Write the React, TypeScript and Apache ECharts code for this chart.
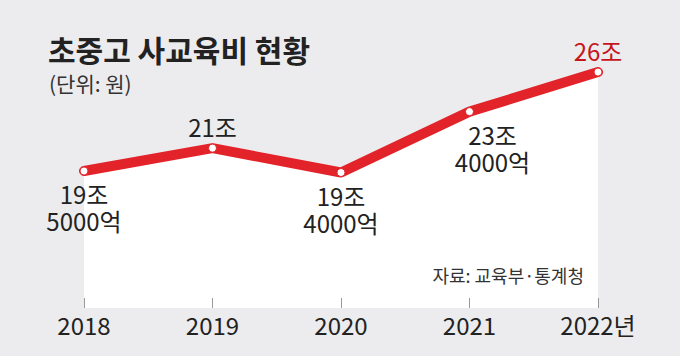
import React, { useEffect, useRef } from "react";
import * as echarts from "echarts";

const years = ["2018", "2019", "2020", "2021", "2022"];
const values = [19.5, 21, 19.4, 23.4, 26];
const valueLabels = ["19조\n5000억", "21조", "19조\n4000억", "23조\n4000억", "26조"];
const labelPositions = ["bottom", "top", "bottom", "bottom", "top"];
const titleText = "초중고 사교육비 현황";
const unitText = "(단위: 원)";
const sourceText = "자료: 교육부·통계청";

const FONT = "'Liberation Sans Narrow', 'Noto Sans CJK KR', sans-serif";
const RED = "#e3232a";
const DARK_RED = "#c4161c";

export default function App() {
  const ref = useRef<HTMLDivElement>(null);
  useEffect(() => {
    if (!ref.current) return;
    const chart = echarts.init(ref.current, null, { renderer: "svg" });
    const data = values.map((v, i) => {
      const isLast = i === values.length - 1;
      return {
        value: v,
        label: {
          show: true,
          position: labelPositions[i],
          distance: labelPositions[i] === "top" ? 4 : 5,
          offset: i === 3 ? [23, 0] : [0, 0],
          formatter: valueLabels[i],
          color: isLast ? DARK_RED : "#222",
          fontSize: 24,
          lineHeight: 27,
          fontFamily: FONT,
        },
      };
    });
    chart.setOption({
      animation: false,
      backgroundColor: "#ececee",
      title: [
        {
          text: titleText,
          left: 48,
          top: 34,
          padding: 0,
          textStyle: {
            fontFamily: "'Noto Sans CJK KR', sans-serif",
            fontWeight: "bold",
            fontSize: 30,
            color: "#222",
          },
        },
        {
          text: unitText,
          left: 49,
          top: 72,
          padding: 0,
          textStyle: {
            fontFamily: "'Noto Sans CJK KR', sans-serif",
            fontWeight: "normal",
            fontSize: 21,
            color: "#333",
          },
        },
      ],
      grid: { left: 84, right: 82, top: 41.6, bottom: 48 },
      xAxis: {
        type: "category",
        data: years,
        boundaryGap: false,
        z: 10,
        axisLine: { show: false },
        axisTick: { show: true, inside: true, length: 10, interval: 0, lineStyle: { color: "#999", width: 1 } },
        axisLabel: {
          interval: 0,
          margin: 4,
          color: "#222",
          fontSize: 24,
          fontFamily: FONT,
          formatter: (v: string, i: number) => (i === years.length - 1 ? v + "년" : v),
        },
        splitLine: { show: false },
      },
      yAxis: {
        type: "value",
        min: 10.5,
        max: 28,
        show: false,
      },
      graphic: [
        {
          type: "text",
          x: 584,
          y: 275,
          z: 100,
          style: {
            text: sourceText,
            align: "right",
            verticalAlign: "middle",
            fontSize: 18,
            fontFamily: "'Noto Sans CJK KR', sans-serif",
            fill: "#333",
          },
        },
      ],
      series: [
        {
          type: "line",
          data,
          smooth: false,
          symbol: "circle",
          symbolSize: 8,
          lineStyle: { color: RED, width: 10, join: "round", cap: "round" },
          itemStyle: { color: "#fff", borderColor: RED, borderWidth: 1 },
          areaStyle: { color: "#ffffff", opacity: 1, origin: "start" },
          z: 3,
        },
      ],
    });
    return () => chart.dispose();
  }, []);
  return (
    <div
      ref={ref}
      style={{ position: "fixed", left: 0, top: 0, width: 680, height: 356 }}
    />
  );
}
